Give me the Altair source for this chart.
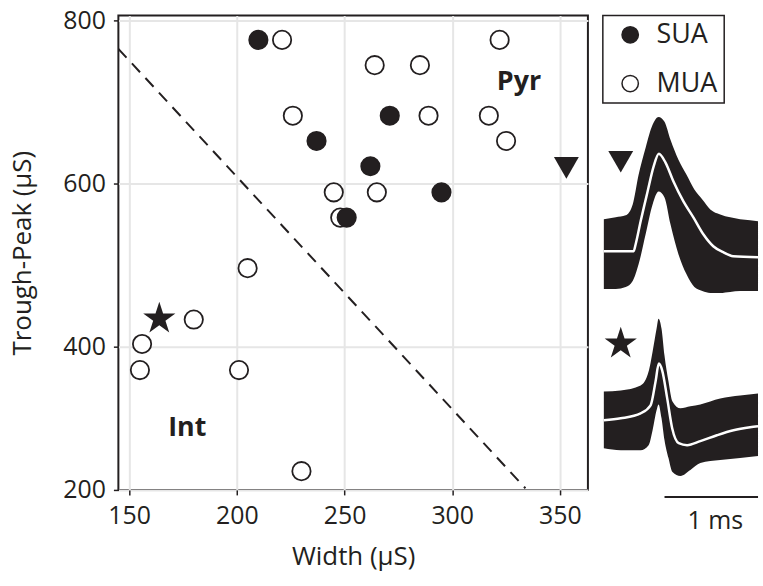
import altair as alt
import pandas as pd

INK = "#231f20"
FONT = "Open Sans"
STAR = ("M0,-1L0.2245,-0.309L0.951,-0.309L0.363,0.118L0.588,0.809L0,0.382"
        "L-0.588,0.809L-0.363,0.118L-0.951,-0.309L-0.2245,-0.309Z")

# ---------------- scatter data ----------------
sua_width = [210, 237, 262, 295, 251, 271]
sua_tp = [776, 652, 621, 589, 558, 683]
mua_width = [221, 264, 226, 245, 265, 248, 205, 285, 322, 289, 317, 325, 180, 156, 155, 201, 230]
mua_tp = [776, 745, 683, 589, 589, 558, 496, 745, 776, 683, 683, 652, 433, 403, 371, 371, 247]
tri_width, tri_tp = [353], [619]
star_width, star_tp = [164], [434]
divider_width = [145, 334]
divider_tp = [765, 226]
label_text = ["Pyr", "Int"]
label_width = [331, 177]
label_tp = [724, 300]
x_ticks = [150, 200, 250, 300, 350]
y_ticks = [224, 400, 600, 800]

# ---------------- waveform data (time in ms, amplitude a.u.) ----------------
w1_t = [0, 0.30, 0.32, 0.37, 0.44, 0.50, 0.553, 0.62, 0.70, 0.80, 0.90, 1.00, 1.10, 1.20, 1.30, 1.55]
w1_mean = [240, 240, 247, 270, 300, 325, 338, 329, 310, 290, 274, 257, 245, 239, 235, 234]
w1_bt = [0, 0.12, 0.22, 0.29, 0.35, 0.42, 0.49, 0.55, 0.61, 0.67, 0.75, 0.83, 0.91, 0.99, 1.07, 1.17, 1.27, 1.37, 1.47, 1.55]
w1_hi = [272, 274, 276, 287, 317, 344, 367, 375, 370, 352, 332, 317, 302, 292, 282, 277, 274, 272, 271, 270]
w1_lo = [202, 202, 204, 210, 227, 257, 287, 300, 294, 267, 237, 217, 204, 200, 198, 198, 199, 200, 200, 200]

w2_t = [0, 0.17, 0.37, 0.47, 0.52, 0.553, 0.587, 0.637, 0.687, 0.753, 0.837, 0.97, 1.137, 1.303, 1.47, 1.55]
w2_mean = [70, 72, 77, 85, 109, 127, 120, 92, 62, 47, 45, 49, 55, 60, 63, 64]
w2_bt = [0, 0.17, 0.37, 0.45, 0.49, 0.53, 0.55, 0.58, 0.61, 0.65, 0.69, 0.77, 0.87, 0.97, 1.17, 1.37, 1.55]
w2_hi = [99, 100, 105, 119, 139, 162, 172, 162, 135, 109, 89, 82, 84, 86, 92, 95, 97]
w2_lo = [42, 40, 40, 45, 60, 80, 86, 72, 50, 32, 18, 14, 20, 27, 30, 32, 34]

tri_marker_t, tri_marker_amp = [0.17], [330]
star_marker_t, star_marker_amp = [0.17], [147]
scale_bar_t = [0.61, 1.55]
scale_bar_amp = -7
scale_label = "1 ms"
scale_label_t = 1.12

# ---------------- tables ----------------
pts = pd.DataFrame({
    "width": mua_width + sua_width,
    "tp": mua_tp + sua_tp,
    "type": ["MUA"] * len(mua_width) + ["SUA"] * len(sua_width),
})
divider = pd.DataFrame({"width": divider_width, "tp": divider_tp})
tri = pd.DataFrame({"width": tri_width, "tp": tri_tp})
star = pd.DataFrame({"width": star_width, "tp": star_tp})
labels = pd.DataFrame({"width": label_width, "tp": label_tp, "text": label_text})

xs = alt.Scale(domain=[145, 363], nice=False, zero=False)
ys = alt.Scale(domain=[224, 806], nice=False, zero=False)
xax = alt.Axis(values=x_ticks, title="Width (µS)", grid=True)
yax = alt.Axis(values=y_ticks, title="Trough-Peak (µS)", grid=True,
               labelExpr="datum.value < 300 ? '200' : datum.label")

X = alt.X("width:Q", scale=xs, axis=xax)
Y = alt.Y("tp:Q", scale=ys, axis=yax)

line = alt.Chart(divider).mark_line(strokeDash=[12, 8], strokeWidth=2, color=INK, clip=True).encode(X, Y)

points = alt.Chart(pts).mark_point(shape="circle", size=340, stroke=INK, strokeWidth=1.8,
                                   opacity=1, fillOpacity=1).encode(
    X, Y,
    fill=alt.Fill("type:N",
                  scale=alt.Scale(domain=["SUA", "MUA"], range=[INK, "white"]),
                  legend=alt.Legend(orient="none", legendX=487, legendY=0, title=None,
                                    strokeColor=INK, padding=6,
                                    labelFontSize=27, labelColor=INK, labelFont=FONT,
                                    symbolSize=270, symbolStrokeColor=INK, symbolStrokeWidth=1.5,
                                    symbolType="circle", symbolOffset=8, labelOffset=13,
                                    rowPadding=21)),
)

tri_m = alt.Chart(tri).mark_point(shape="triangle-down", size=625, filled=True, color=INK, opacity=1).encode(X, Y)
star_m = alt.Chart(star).mark_point(shape=STAR, size=1156, filled=True, color=INK, opacity=1).encode(X, Y)
txt = alt.Chart(labels).mark_text(fontSize=27, fontWeight="bold", color=INK, font=FONT).encode(X, Y, text="text:N")

scatter = alt.layer(line, points, tri_m, star_m, txt).properties(
    width=472, height=477,
    view=alt.ViewBackground(stroke=INK, strokeWidth=2),
)

# ---------------- waveform panel ----------------
band = pd.concat([
    pd.DataFrame({"t": w1_bt, "hi": w1_hi, "lo": w1_lo, "wave": "w1"}),
    pd.DataFrame({"t": w2_bt, "hi": w2_hi, "lo": w2_lo, "wave": "w2"}),
])
mean = pd.concat([
    pd.DataFrame({"t": w1_t, "amp": w1_mean, "wave": "w1"}),
    pd.DataFrame({"t": w2_t, "amp": w2_mean, "wave": "w2"}),
])
tri_mk = pd.DataFrame({"t": tri_marker_t, "amp": tri_marker_amp})
star_mk = pd.DataFrame({"t": star_marker_t, "amp": star_marker_amp})
bar = pd.DataFrame({"t": [scale_bar_t[0]], "t2": [scale_bar_t[1]], "amp": [scale_bar_amp]})
bar_txt = pd.DataFrame({"t": [scale_label_t], "amp": [scale_bar_amp - 24], "text": [scale_label]})

ts = alt.Scale(domain=[0, 1.55], nice=False, zero=False)
as_ = alt.Scale(domain=[0, 477], nice=False, zero=False)
TX = alt.X("t:Q", scale=ts, axis=None)

band_m = alt.Chart(band).mark_area(color=INK, interpolate="monotone", opacity=1).encode(
    TX, alt.Y("lo:Q", scale=as_, axis=None), alt.Y2("hi:Q"), detail="wave:N")
mean_m = alt.Chart(mean).mark_line(color="white", strokeWidth=2.5, interpolate="monotone").encode(
    TX, alt.Y("amp:Q", scale=as_, axis=None), detail="wave:N")
tri2 = alt.Chart(tri_mk).mark_point(shape="triangle-down", size=625, filled=True, color=INK, opacity=1).encode(
    TX, alt.Y("amp:Q", scale=as_, axis=None))
star2 = alt.Chart(star_mk).mark_point(shape=STAR, size=1156, filled=True, color=INK, opacity=1).encode(
    TX, alt.Y("amp:Q", scale=as_, axis=None))
bar_m = alt.Chart(bar).mark_rule(color=INK, strokeWidth=2).encode(
    TX, alt.X2("t2:Q"), alt.Y("amp:Q", scale=as_, axis=None))
bar_t = alt.Chart(bar_txt).mark_text(fontSize=25, color=INK, font=FONT, baseline="middle").encode(
    TX, alt.Y("amp:Q", scale=as_, axis=None), text="text:N")

wave = alt.layer(band_m, mean_m, tri2, star2, bar_m, bar_t).properties(
    width=155, height=477,
    view=alt.ViewBackground(strokeOpacity=0),
)

chart = alt.hconcat(scatter, wave, spacing=10).properties(
    padding={"left": 9, "top": 5, "right": 0, "bottom": 0},
).configure(font=FONT).configure_axis(
    labelFont=FONT, titleFont=FONT, labelFontSize=25, titleFontSize=26,
    labelColor=INK, titleColor=INK, titleFontWeight="normal",
    gridColor="#e6e6e6", gridWidth=2, domain=False,
    tickColor=INK, tickSize=5, tickWidth=1.5,
).configure_axisY(labelPadding=8, titlePadding=27).configure_axisX(labelPadding=9, titlePadding=15
).configure_legend(strokeWidth=1.5)

chart.save("out.html", embed_options={"renderer": "svg", "actions": False})
